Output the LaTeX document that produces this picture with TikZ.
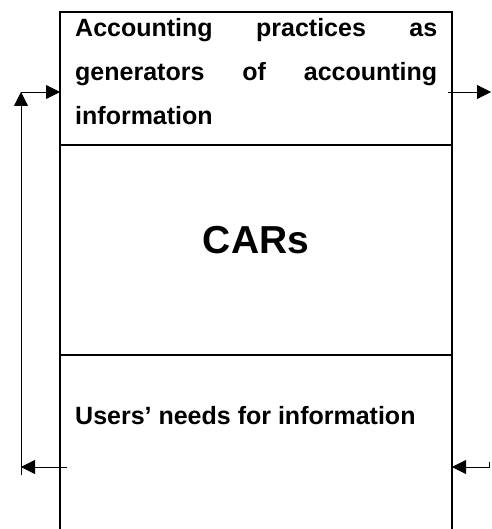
\documentclass[tikz,border=0pt]{standalone}
\usepackage{fontspec}
\setmainfont{Liberation Sans}
\usetikzlibrary{arrows.meta,positioning}

\begin{document}
\begin{tikzpicture}[x=1pt,y=-1pt,
    part/.style={draw,line width=1.5pt,minimum width=392pt,inner sep=0pt,outer sep=0pt},
    flow/.style={line width=0.8pt,-{Triangle[length=14pt,width=14pt]}},
    txt/.style={font=\fontsize{25}{44}\selectfont\bfseries,inner sep=0pt}]
      \useasboundingbox (0,0) rectangle (491,529);
      \clip (0,0) rectangle (491,529);

      \node[part,minimum height=133pt] (gen) at (256,78.5) {};
      \node[part,minimum height=210pt] (cars) at (256,250) {};
      \node[part,minimum height=205pt] (users) at (256,457.5) {};

      \node[txt,text width=362pt,align=left,anchor=north west] (gentext) at (75,18) {
        Accounting\hfill practices\hfill as\\
        generators\hfill of\hfill accounting\\
        information
      };
      \node[txt,font=\fontsize{39}{47}\selectfont\bfseries,anchor=base] (carstext) at (256,253) {CARs};
      \node[txt,anchor=base west] (userstext) at (75,424) {Users’ needs for information};

      \coordinate (lbot) at (21,475);
      \coordinate (ltop) at (21,92);
      \coordinate (lout) at (67,467);
      \coordinate (rout) at (448,92);
      \coordinate (rend) at (491,92);
      \coordinate (rin) at (489,462);

      \draw[flow] (lbot) -- (ltop);
      \draw[flow] (ltop) -- (gen.west |- ltop);
      \draw[flow] (lout) -- (lbot |- lout);
      \draw[flow] (rout) -- (rend);
      \draw[flow] (rin) |- (users.east |- lout);
    \end{tikzpicture}
\end{document}
